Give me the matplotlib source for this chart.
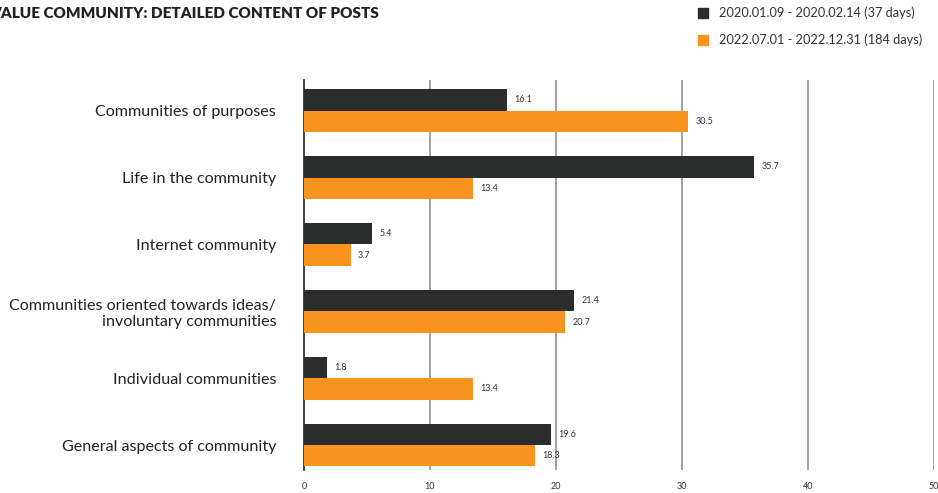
import matplotlib
matplotlib.use("Agg")
import matplotlib.pyplot as plt
from matplotlib.patches import Rectangle
import numpy as np

plt.rcParams['font.family'] = ['Lato', 'DejaVu Sans']

categories = [
    "Communities of purposes",
    "Life in the community",
    "Internet community",
    "Communities oriented towards ideas/\ninvoluntary communities",
    "Individual communities",
    "General aspects of community",
]
period_2020 = [16.1, 35.7, 5.4, 21.4, 1.8, 19.6]
period_2022 = [30.5, 13.4, 3.7, 20.7, 13.4, 18.3]
series_labels = ["2020.01.09 - 2020.02.14 (37 days)",
                 "2022.07.01 - 2022.12.31 (184 days)"]
x_ticks = [0, 10, 20, 30, 40, 50]
title = "VALUE COMMUNITY: DETAILED CONTENT OF POSTS"

dark = "#2b2c2c"
orange = "#f7931e"

W, H = 938, 493
fig = plt.figure(figsize=(W / 100, H / 100), dpi=100)
ax = fig.add_axes([0.324, 0.047, 0.672, 0.791])

y = np.arange(len(categories))
h = 0.32
ax.barh(y - h / 2, period_2020, height=h, color=dark, zorder=3)
ax.barh(y + h / 2, period_2022, height=h, color=orange, zorder=3)

for yi, v in zip(y, period_2020):
    ax.text(v + 0.6, yi - h / 2, f"{v}", va="center", ha="left",
            fontsize=6.5, color="#333333", zorder=4)
for yi, v in zip(y, period_2022):
    ax.text(v + 0.6, yi + h / 2, f"{v}", va="center", ha="left",
            fontsize=6.5, color="#333333", zorder=4)

ax.set_xlim(0, 50)
ax.set_ylim(5.37, -0.46)
ax.set_xticks(x_ticks)
ax.set_xticklabels([str(t) for t in x_ticks], fontsize=6.5, color="#333333")
ax.tick_params(axis="x", length=0, pad=9)
ax.set_yticks(y)
ax.set_yticklabels(categories, fontsize=11.6, color="#222222")
ax.tick_params(axis="y", length=0, pad=20)
for lbl in ax.get_yticklabels():
    lbl.set_horizontalalignment("right")
    lbl.set_multialignment("right")

for t in x_ticks[1:]:
    ax.axvline(t, color="#999999", lw=1.3, zorder=1)
for s in ["top", "right", "bottom"]:
    ax.spines[s].set_visible(False)
ax.spines["left"].set_color("#333333")
ax.spines["left"].set_linewidth(1.3)

# Title runs off the left edge of the canvas
fig.text(-9.5 / W, 1 - 14 / H, title, fontsize=11, fontweight="heavy",
         color="#222222", va="center", ha="left")

for i, (lab, col) in enumerate(zip(series_labels, [dark, orange])):
    yy = 1 - (13 + 27 * i) / H
    fig.patches.append(Rectangle((698 / W, yy - 5 / H), 10 / W, 10 / H,
                                 transform=fig.transFigure, color=col))
    fig.text(719 / W, yy, lab, ha="left", va="center", fontsize=9.2,
             color="#333333")

fig.savefig("out.png", dpi=100)
